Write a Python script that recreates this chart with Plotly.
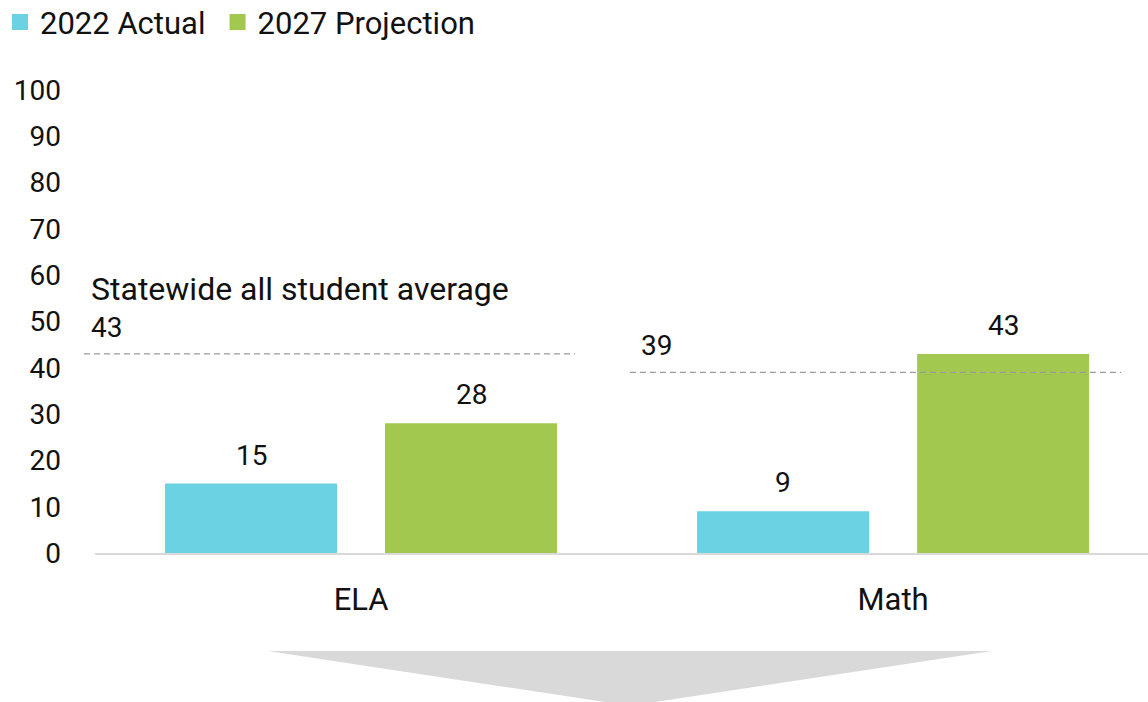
import plotly.graph_objects as go

# Proficiency rates (%) by subject
subjects = ["ELA", "Math"]
actual_2022 = [15, 9]
projection_2027 = [28, 43]
statewide_avg = [43, 39]
series_names = ["2022 Actual", "2027 Projection"]
y_ticks = [0, 10, 20, 30, 40, 50, 60, 70, 80, 90, 100]

CYAN = "#6AD2E2"
GREEN = "#A2C850"
FONT = "Roboto"
TEXT = "#111111"
FS = 28

BARGAP = 0.173
BARGROUPGAP = 0.218
slot = (1 - BARGAP) / 2  # width of each bar slot within a category

fig = go.Figure()
fig.add_trace(go.Bar(x=subjects, y=actual_2022, marker=dict(color=CYAN, line=dict(width=0)),
                     showlegend=False, hoverinfo="skip"))
fig.add_trace(go.Bar(x=subjects, y=projection_2027, marker=dict(color=GREEN, line=dict(width=0)),
                     showlegend=False, hoverinfo="skip"))

# legend entries with larger square swatches, each in its own legend box
for name, col, lg in zip(series_names, [CYAN, GREEN], ["legend", "legend2"]):
    fig.add_trace(go.Scatter(x=[None], y=[None], mode="markers", name=name, legend=lg,
                             marker=dict(symbol="square", size=16, color=col)))

annotations = []
# value labels above bars
for i, subj in enumerate(subjects):
    for off, vals in ((-slot / 2, actual_2022), (slot / 2, projection_2027)):
        annotations.append(dict(x=i + off, y=vals[i], xref="x", yref="y", text=str(vals[i]),
                                showarrow=False, yanchor="bottom", yshift=10,
                                font=dict(family=FONT, size=FS, color=TEXT)))

shapes = []
# statewide reference lines (dashed), one per subject; horizontal spans in paper units
line_spans = [(-0.0105, 0.4558), (0.508, 0.9744)]
label_x = [-0.0057, 0.5167]
for i, avg in enumerate(statewide_avg):
    x0, x1 = line_spans[i]
    shapes.append(dict(type="line", xref="paper", yref="y", x0=x0, x1=x1, y0=avg, y1=avg,
                       line=dict(color="#9A9A9A", width=1.3, dash="6px,4px"), layer="above"))
    annotations.append(dict(x=label_x[i], y=avg, xref="paper", yref="y", text=str(avg),
                            showarrow=False, xanchor="left", yanchor="bottom", yshift=8,
                            font=dict(family=FONT, size=FS, color=TEXT)))
annotations.append(dict(x=label_x[0], y=statewide_avg[0], xref="paper", yref="y",
                        text="Statewide all student average", showarrow=False,
                        xanchor="left", yanchor="bottom", yshift=44,
                        font=dict(family=FONT, size=32, color=TEXT)))

# downward arrow banner beneath the chart
shapes.append(dict(type="path", xref="paper", yref="paper",
                   path="M 0.164,-0.2117 L 0.852,-0.2117 L 0.508,-0.33 Z",
                   fillcolor="#D9D9D9", line=dict(width=0), layer="below"))

legend_style = dict(orientation="h", y=0.968, xref="container", yref="container",
                    xanchor="left", yanchor="middle",
                    font=dict(family=FONT, size=31, color=TEXT),
                    bgcolor="rgba(0,0,0,0)", itemclick=False, itemdoubleclick=False)

fig.update_layout(
    width=1148, height=702,
    margin=dict(l=95, r=0, t=90, b=149),
    paper_bgcolor="white", plot_bgcolor="white",
    barmode="group", bargap=BARGAP, bargroupgap=BARGROUPGAP,
    font=dict(family=FONT, size=FS, color=TEXT),
    showlegend=True,
    legend=dict(x=0, **legend_style),
    legend2=dict(x=0.1895, **legend_style),
    annotations=annotations,
    shapes=shapes,
    xaxis=dict(type="category", range=[-0.5, 1.479], showgrid=False, zeroline=False,
               showline=True, linecolor="#D9D9D9", linewidth=2, ticks="",
               ticklabelstandoff=18, tickfont=dict(family=FONT, size=31, color=TEXT),
               fixedrange=True),
    yaxis=dict(range=[0, 100], tickvals=y_ticks, showgrid=False, zeroline=False,
               showline=False, ticks="", ticklabelstandoff=33,
               tickfont=dict(family=FONT, size=FS, color=TEXT), fixedrange=True),
)

fig.write_html("out.html", config={"displayModeBar": False})
